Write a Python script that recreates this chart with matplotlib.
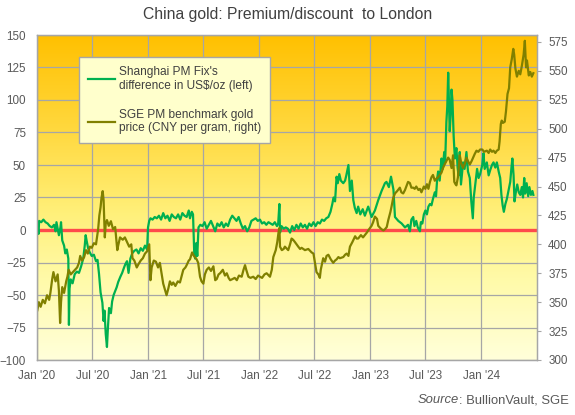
import numpy as np
import pandas as pd
import matplotlib
matplotlib.use('Agg')
import matplotlib.pyplot as plt
import matplotlib.dates as mdates
from matplotlib.colors import LinearSegmentedColormap

plt.rcParams['font.family'] = ['Liberation Sans', 'DejaVu Sans']

# Shanghai PM fix premium vs London, US$/oz (left axis)
prem_dates = [
    '2020-01-02', '2020-01-06', '2020-01-08', '2020-01-15', '2020-01-22', '2020-01-29',
    '2020-02-05', '2020-02-12', '2020-02-19', '2020-02-26', '2020-03-02', '2020-03-05',
    '2020-03-10', '2020-03-13', '2020-03-18', '2020-03-20', '2020-03-24', '2020-03-30',
    '2020-04-03', '2020-04-08', '2020-04-13', '2020-04-15', '2020-04-17', '2020-04-21',
    '2020-04-27', '2020-05-04', '2020-05-11', '2020-05-18', '2020-05-25', '2020-06-01',
    '2020-06-06', '2020-06-09', '2020-06-12', '2020-06-17', '2020-06-22', '2020-06-29',
    '2020-07-06', '2020-07-13', '2020-07-18', '2020-07-23', '2020-07-28', '2020-08-03',
    '2020-08-07', '2020-08-10', '2020-08-14', '2020-08-18', '2020-08-21', '2020-08-25',
    '2020-08-31', '2020-09-04', '2020-09-09', '2020-09-14', '2020-09-19', '2020-09-24',
    '2020-10-01', '2020-10-07', '2020-10-13', '2020-10-18', '2020-10-23', '2020-10-28',
    '2020-11-03', '2020-11-09', '2020-11-16', '2020-11-23', '2020-11-30', '2020-12-07',
    '2020-12-14', '2020-12-21', '2020-12-28', '2020-12-31',
    '2021-01-04', '2021-01-08', '2021-01-15', '2021-01-22', '2021-01-29', '2021-02-05',
    '2021-02-12', '2021-02-19', '2021-02-26', '2021-03-05', '2021-03-12', '2021-03-19',
    '2021-03-26', '2021-04-02', '2021-04-09', '2021-04-16', '2021-04-23', '2021-04-30',
    '2021-05-07', '2021-05-14', '2021-05-18', '2021-05-24', '2021-05-28', '2021-06-01',
    '2021-06-04', '2021-06-08', '2021-06-11', '2021-06-15', '2021-06-21', '2021-06-28',
    '2021-07-05', '2021-07-12', '2021-07-19', '2021-07-26', '2021-08-02', '2021-08-09',
    '2021-08-16', '2021-08-23', '2021-08-30', '2021-09-06', '2021-09-13', '2021-09-20',
    '2021-09-27', '2021-10-04', '2021-10-11', '2021-10-18', '2021-10-25', '2021-11-01',
    '2021-11-08', '2021-11-15', '2021-11-22', '2021-11-29', '2021-12-06', '2021-12-13',
    '2021-12-20', '2021-12-27',
    '2022-01-03', '2022-01-10', '2022-01-17', '2022-01-24', '2022-01-31', '2022-02-07',
    '2022-02-14', '2022-02-21', '2022-02-28', '2022-03-04', '2022-03-08', '2022-03-10',
    '2022-03-15', '2022-03-22', '2022-03-29', '2022-04-05', '2022-04-12', '2022-04-19',
    '2022-04-26', '2022-05-03', '2022-05-10', '2022-05-17', '2022-05-24', '2022-05-31',
    '2022-06-07', '2022-06-14', '2022-06-21', '2022-06-28', '2022-07-05', '2022-07-12',
    '2022-07-19', '2022-07-26', '2022-08-02', '2022-08-09', '2022-08-16', '2022-08-23',
    '2022-08-29', '2022-09-02', '2022-09-07', '2022-09-12', '2022-09-16', '2022-09-21',
    '2022-09-26', '2022-10-04', '2022-10-10', '2022-10-14', '2022-10-21', '2022-10-26',
    '2022-11-01', '2022-11-06', '2022-11-11', '2022-11-17', '2022-11-22', '2022-11-29',
    '2022-12-07', '2022-12-14', '2022-12-25',
    '2023-01-05', '2023-01-16', '2023-01-27', '2023-02-07', '2023-02-18', '2023-02-23',
    '2023-03-03', '2023-03-10', '2023-03-18', '2023-03-23', '2023-04-03', '2023-04-14',
    '2023-04-25', '2023-05-05', '2023-05-11', '2023-05-16', '2023-05-22', '2023-05-26',
    '2023-06-01', '2023-06-06', '2023-06-13', '2023-06-16', '2023-06-21', '2023-06-26',
    '2023-07-01', '2023-07-06', '2023-07-11', '2023-07-16', '2023-07-21', '2023-07-26',
    '2023-08-01', '2023-08-05', '2023-08-09', '2023-08-12', '2023-08-17', '2023-08-23',
    '2023-08-27', '2023-09-01', '2023-09-04', '2023-09-08', '2023-09-11', '2023-09-14',
    '2023-09-17', '2023-09-19', '2023-09-22', '2023-09-25', '2023-09-28', '2023-10-02',
    '2023-10-06', '2023-10-11', '2023-10-15', '2023-10-18', '2023-10-22', '2023-10-26',
    '2023-11-02', '2023-11-07', '2023-11-13', '2023-11-18', '2023-11-24', '2023-11-29',
    '2023-12-04', '2023-12-07', '2023-12-12', '2023-12-18', '2023-12-23', '2023-12-28',
    '2024-01-04', '2024-01-08', '2024-01-12', '2024-01-19', '2024-01-25', '2024-01-30',
    '2024-02-05', '2024-02-10', '2024-02-16', '2024-02-21', '2024-02-27', '2024-03-03',
    '2024-03-07', '2024-03-11', '2024-03-15', '2024-03-20', '2024-03-25', '2024-03-30',
    '2024-04-05', '2024-04-09', '2024-04-12', '2024-04-16', '2024-04-19', '2024-04-24',
    '2024-04-28', '2024-05-03', '2024-05-08', '2024-05-13', '2024-05-17', '2024-05-21',
    '2024-05-24', '2024-05-29', '2024-06-03', '2024-06-07', '2024-06-12', '2024-06-17',
    '2024-06-20',
]
prem_vals = [
    5, -3, 7, 6, 8, 6,
    5, 3, 2, 4, -1, 6,
    0, -4, 2, 6, -8, -12,
    -18, -15, -22, -73, -45, -38,
    -41, -34, -32, -33, -28, -22,
    -12, -4, -8, -14, -17, -20,
    -19, -24, -23, -34, -48, -56,
    -70, -62, -80, -90, -76, -60,
    -64, -55, -50, -47, -44, -40,
    -36, -33, -29, -26, -24, -33,
    -22, -18, -16, -15, -18, -14,
    -16, -12, -15, 2,
    7, 9, 8, 10, 9, 11,
    8, 13, 9, 11, 7, 12,
    10, 9, 12, 8, 13, 11,
    10, 15, 9, 14, 12, -18,
    -22, -10, -20, 2, 4, 3,
    6, 1, 4, 7, 3, -1,
    5, 3, 6, 2, 5, 3,
    8, 11, 9, 7, 10, 5,
    1, 3, -1, 2, 7, 8,
    9, 7,
    8, 5, 6, 4, 6, 5,
    4, 6, 3, 5, 20, -2,
    3, 1, 2, 1, -2, 3,
    0, 4, 1, 5, 2, 4,
    1, 5, 3, 6, 3, 6,
    5, 8, 7, 9, 10, 14,
    20, 25, 22, 41, 36, 43,
    38, 36, 38, 42, 50, 30,
    38, 23, 17, 13, 18, 12,
    16, 11, 18,
    10, 15, 23, 30, 36, 37,
    33, 41, 31, 10, 7, 5,
    2, 4, -1, 8, 10, 3,
    7, 2, -1, 6, 5, 12,
    15, 12, 18, 20, 19, 24,
    29, 26, 40, 45, 38, 55,
    47, 60, 52, 83, 95, 121,
    95, 76, 88, 108, 100, 72,
    55, 63, 48, 42, 60, 35,
    52, 47, 60, 45, 40, 22,
    9, 25, 35, 47, 40, 43,
    50, 59, 47, 52, 42, 46,
    50, 52, 48, 52, 45, 40,
    27, 19, 14, 20, 24, 30,
    37, 48, 55, 42, 22, 30,
    35, 29, 27, 33, 25, 40,
    28, 36, 26, 33, 27, 30,
    27,
]

# SGE PM benchmark gold price, CNY per gram (right axis)
sge_dates = [
    '2020-01-02', '2020-01-07', '2020-01-13', '2020-01-20', '2020-01-27', '2020-02-03',
    '2020-02-10', '2020-02-14', '2020-02-20', '2020-02-24', '2020-03-02', '2020-03-09',
    '2020-03-13', '2020-03-17', '2020-03-20', '2020-03-24', '2020-03-30', '2020-04-06',
    '2020-04-10', '2020-04-14', '2020-04-21', '2020-04-28', '2020-05-05', '2020-05-12',
    '2020-05-18', '2020-05-22', '2020-05-28', '2020-06-04', '2020-06-10', '2020-06-16',
    '2020-06-23', '2020-06-29', '2020-07-06', '2020-07-13', '2020-07-20', '2020-07-24',
    '2020-07-28', '2020-07-31', '2020-08-04', '2020-08-07', '2020-08-11', '2020-08-14',
    '2020-08-18', '2020-08-24', '2020-08-31', '2020-09-07', '2020-09-14', '2020-09-21',
    '2020-09-24', '2020-09-30', '2020-10-09', '2020-10-16', '2020-10-23', '2020-10-30',
    '2020-11-06', '2020-11-10', '2020-11-16', '2020-11-24', '2020-11-30', '2020-12-07',
    '2020-12-14', '2020-12-21', '2020-12-28',
    '2021-01-04', '2021-01-08', '2021-01-12', '2021-01-19', '2021-01-26', '2021-02-02',
    '2021-02-08', '2021-02-19', '2021-03-02', '2021-03-08', '2021-03-13', '2021-03-19',
    '2021-03-24', '2021-03-31', '2021-04-08', '2021-04-15', '2021-04-26', '2021-05-03',
    '2021-05-07', '2021-05-14', '2021-05-18', '2021-05-25', '2021-05-31', '2021-06-09',
    '2021-06-14', '2021-06-20', '2021-06-25', '2021-07-01', '2021-07-06', '2021-07-12',
    '2021-07-19', '2021-07-26', '2021-08-03', '2021-08-09', '2021-08-14', '2021-08-20',
    '2021-08-25', '2021-09-03', '2021-09-10', '2021-09-16', '2021-09-22', '2021-09-27',
    '2021-10-05', '2021-10-12', '2021-10-19', '2021-10-26', '2021-11-04', '2021-11-10',
    '2021-11-15', '2021-11-19', '2021-11-26', '2021-12-03', '2021-12-12', '2021-12-20',
    '2021-12-28',
    '2022-01-03', '2022-01-10', '2022-01-18', '2022-01-25', '2022-02-05', '2022-02-11',
    '2022-02-16', '2022-02-24', '2022-03-01', '2022-03-05', '2022-03-08', '2022-03-10',
    '2022-03-16', '2022-03-22', '2022-03-26', '2022-04-06', '2022-04-12', '2022-04-17',
    '2022-04-22', '2022-04-28', '2022-05-09', '2022-05-15', '2022-05-20', '2022-05-31',
    '2022-06-11', '2022-06-22', '2022-06-28', '2022-07-03', '2022-07-08', '2022-07-14',
    '2022-07-19', '2022-07-22', '2022-07-30', '2022-08-05', '2022-08-10', '2022-08-16',
    '2022-08-24', '2022-09-01', '2022-09-07', '2022-09-12', '2022-09-18', '2022-09-23',
    '2022-10-04', '2022-10-10', '2022-10-15', '2022-10-21', '2022-10-26', '2022-11-03',
    '2022-11-12', '2022-11-17', '2022-11-22', '2022-12-01', '2022-12-08', '2022-12-14',
    '2022-12-20', '2022-12-25',
    '2023-01-05', '2023-01-10', '2023-01-16', '2023-01-23', '2023-01-27', '2023-02-03',
    '2023-02-07', '2023-02-13', '2023-02-18', '2023-02-24', '2023-03-01', '2023-03-08',
    '2023-03-12', '2023-03-17', '2023-03-23', '2023-03-30', '2023-04-08', '2023-04-13',
    '2023-04-19', '2023-04-25', '2023-05-05', '2023-05-11', '2023-05-16', '2023-05-22',
    '2023-05-27', '2023-06-01', '2023-06-08', '2023-06-13', '2023-06-18', '2023-06-26',
    '2023-07-01', '2023-07-06', '2023-07-11', '2023-07-16', '2023-07-21', '2023-07-26',
    '2023-08-01', '2023-08-07', '2023-08-12', '2023-08-17', '2023-08-23', '2023-08-28',
    '2023-09-04', '2023-09-08', '2023-09-14', '2023-09-19', '2023-09-25', '2023-09-30',
    '2023-10-04', '2023-10-08', '2023-10-11', '2023-10-16', '2023-10-22', '2023-10-27',
    '2023-11-02', '2023-11-08', '2023-11-13', '2023-11-18', '2023-11-24', '2023-11-30',
    '2023-12-05', '2023-12-10', '2023-12-16', '2023-12-22', '2023-12-28',
    '2024-01-04', '2024-01-10', '2024-01-19', '2024-01-25', '2024-01-30', '2024-02-05',
    '2024-02-10', '2024-02-16', '2024-02-21', '2024-02-27', '2024-03-01', '2024-03-05',
    '2024-03-08', '2024-03-12', '2024-03-18', '2024-03-22', '2024-03-27', '2024-04-01',
    '2024-04-05', '2024-04-10', '2024-04-15', '2024-04-18', '2024-04-22', '2024-04-27',
    '2024-05-03', '2024-05-08', '2024-05-13', '2024-05-19', '2024-05-23', '2024-05-27',
    '2024-05-30', '2024-06-05', '2024-06-10', '2024-06-15', '2024-06-20',
]
sge_vals = [
    343, 350, 346, 352, 349, 356,
    352, 358, 370, 376, 368, 374,
    360, 332, 350, 363, 358, 368,
    372, 378, 374, 376, 378, 380,
    384, 390, 386, 389, 395, 392,
    398, 397, 401, 400, 413, 425,
    432, 440, 446, 438, 406, 418,
    421, 416, 420, 413, 415, 395,
    399, 406, 404, 406, 402, 398,
    400, 388, 386, 380, 383, 386,
    388, 392, 394,
    400, 369, 380, 386, 385, 380,
    384, 366, 356, 362, 368, 365,
    367, 364, 368, 367, 378, 380,
    382, 386, 387, 393, 390, 387,
    384, 372, 368, 366, 374, 378,
    380, 377, 381, 369, 370, 374,
    375, 378, 373, 375, 371, 369,
    370, 371, 369, 373, 372, 378,
    382, 378, 372, 371, 372, 370,
    373,
    372, 371, 374, 375, 372, 378,
    389, 395, 402, 410, 414, 398,
    395, 396, 398, 395, 400, 405,
    404, 402, 398, 396, 397, 395,
    396, 393, 392, 384, 376, 374,
    371, 378, 388, 385, 390, 391,
    387, 384, 386, 387, 389, 388,
    389, 391, 392, 390, 398, 402,
    407, 405, 405, 408, 406, 408,
    410, 412,
    416, 419, 424, 422, 416, 414,
    413, 412, 413, 415, 421, 428,
    433, 440, 444, 446, 449, 445,
    444, 447, 454, 453, 449, 449,
    448, 450, 447, 448, 445, 450,
    448, 452, 448, 454, 458, 460,
    455, 457, 458, 460, 462, 466,
    470, 472, 475, 473, 466, 477,
    454, 452, 451, 458, 477, 470,
    466, 470, 475, 472, 469, 472,
    475, 478, 481, 480, 482,
    482, 480, 481, 479, 482, 480,
    481, 479, 481, 482, 489, 504,
    507, 505, 506, 515, 530, 535,
    553, 560, 569, 564, 552, 545,
    550, 547, 554, 564, 576, 553,
    559, 546, 549, 545, 548,
]

x_ticks = ['2020-01-01', '2020-07-01', '2021-01-01', '2021-07-01', '2022-01-01',
           '2022-07-01', '2023-01-01', '2023-07-01', '2024-01-01']
left_ticks = [-100, -75, -50, -25, 0, 25, 50, 75, 100, 125, 150]
right_ticks = [300, 325, 350, 375, 400, 425, 450, 475, 500, 525, 550, 575]

GREEN = '#00B050'
OLIVE = '#808000'
RED = '#FF4B4B'
GRID = '#A6A6A6'
TXT = '#595959'

fig = plt.figure(figsize=(5.75, 4.15), dpi=100)
pos = [37 / 575, 1 - 360 / 415, 500 / 575, 325 / 415]

# gradient background behind the plot area
bg = fig.add_axes(pos, zorder=0)
cmap = LinearSegmentedColormap.from_list('gold', [
    (0.0, '#FFC000'), (0.3, '#FFD940'), (0.55, '#FFF07A'),
    (0.75, '#FFFAA8'), (1.0, '#FFFFDA')])
bg.imshow(np.linspace(0, 1, 256).reshape(-1, 1), cmap=cmap, aspect='auto',
          extent=[0, 1, 0, 1])
bg.axis('off')

ax = fig.add_axes(pos, zorder=1)
ax.patch.set_alpha(0)
ax2 = ax.twinx()

pd_prem = pd.to_datetime(prem_dates)
pd_sge = pd.to_datetime(sge_dates)

ax.axhline(0, color=RED, lw=2.4, zorder=2)
l1, = ax.plot(pd_prem, prem_vals, color=GREEN, lw=1.6, zorder=3,
              label="Shanghai PM Fix's\ndifference in US$/oz (left)")
l2, = ax2.plot(pd_sge, sge_vals, color=OLIVE, lw=1.6,
               label='SGE PM benchmark gold\nprice (CNY per gram, right)')

ax.set_xlim(pd.Timestamp('2020-01-01'), pd.Timestamp('2024-07-02'))
ax.set_ylim(-100, 150)
ax2.set_ylim(300, 581)

ax.set_xticks(pd.to_datetime(x_ticks))
ax.xaxis.set_major_formatter(mdates.DateFormatter("%b '%y"))
ax.set_yticks(left_ticks)
ax2.set_yticks(right_ticks)

ax.grid(True, color=GRID, lw=0.9)
ax.set_axisbelow(True)
ax.tick_params(axis='both', length=0, labelsize=8.4, labelcolor=TXT)
ax.tick_params(axis='x', pad=7)
ax.tick_params(axis='y', pad=8)
ax2.tick_params(axis='y', length=3, width=0.8, color=GRID, pad=5,
                labelsize=8.4, labelcolor=TXT)
for a in (ax, ax2):
    for s in a.spines.values():
        s.set_color(GRID)
        s.set_linewidth(0.9)

leg = ax2.legend(handles=[l1, l2], loc='upper left', bbox_to_anchor=(0.084, 0.932),
                 fontsize=8.6, frameon=True, fancybox=False, framealpha=1,
                 facecolor='#FFFFCC', edgecolor=GRID, handlelength=2.3,
                 handletextpad=0.3, labelspacing=1.4, borderpad=0.75,
                 borderaxespad=0)
for t in leg.get_texts():
    t.set_color('#404040')

fig.text(0.5, 1 - 15 / 415, 'China gold: Premium/discount  to London',
         ha='center', va='center', fontsize=11.3, color='#404040')
src = fig.text(569 / 575, 1 - 400 / 415, ': BullionVault, SGE', ha='right',
               va='center', fontsize=9.4, color=TXT)
fig.canvas.draw()
bb = src.get_window_extent()
fig.text(bb.x0 / fig.bbox.width, 1 - 400 / 415, 'Source', style='italic',
         ha='right', va='center', fontsize=9.4, color=TXT)

fig.savefig('out.png', dpi=100)
